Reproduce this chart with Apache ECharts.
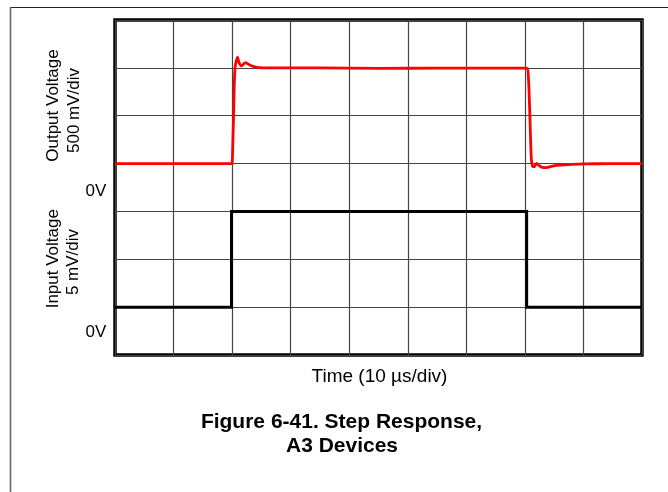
<!DOCTYPE html>
<html>
<head>
<meta charset="utf-8">
<script src="https://cdn.jsdelivr.net/npm/echarts@6/dist/echarts.min.js"></script>
<style>
  html, body { margin: 0; padding: 0; background: #fff; }
  #chart { width: 668px; height: 492px; }
</style>
</head>
<body>
<div id="chart"></div>
<script>
// Scope settings: 10 µs/div horizontally, 9 divisions; 7 vertical divisions.
const timeAxis = { min: 0, max: 90, step: 10 };            // µs
const outputAxis = { min: -2000, max: 1500, step: 500 };   // mV, 500 mV/div
const inputAxis = { min: -5, max: 30, step: 5 };           // mV, 5 mV/div

// Output voltage trace (red)
const outTime = [0, 10, 20.0, 20.05, 20.25, 20.5, 20.95, 21.15, 21.6, 22.3, 23.0, 24.2, 26, 35, 45, 55, 65, 70.3,
                 70.6, 70.9, 71.1, 71.3, 71.55, 72.0, 72.5, 73.3, 74.2, 75.4, 78, 80, 85, 90];
const outMv   = [0, 0, 0, 50, 500, 1000, 1108, 1060, 1022, 1055, 1030, 1005, 1000, 1000, 995, 997, 998, 998,
                 900, 400, 50, -30, -35, 3, -25, -43, -35, -18, -8, -3, -1, 0];

// Input voltage step (black)
const inTime = [0, 19.9, 19.9, 70.3, 70.3, 90];
const inMv   = [0, 0, 10, 10, 0, 0];

const outPairs = outTime.map((t, i) => [t, outMv[i]]);
const inPairs = inTime.map((t, i) => [t, inMv[i]]);

const FONT = '"Liberation Sans", Arial, Helvetica, sans-serif';
const txt = (x, y, text, size, opts = {}) => ({
  type: 'text', x, y, rotation: opts.rotation || 0,
  style: {
    text, fill: '#000', font: `${opts.bold ? 'bold ' : ''}${size}px ${FONT}`,
    textAlign: 'center', textVerticalAlign: 'middle'
  }
});

const chart = echarts.init(document.getElementById('chart'));
chart.setOption({
  animation: false,
  backgroundColor: '#fff',
  grid: { left: 115, top: 20, width: 527, height: 335, show: true, borderColor: '#000', borderWidth: 3.5, backgroundColor: 'transparent' },
  xAxis: {
    type: 'value', min: timeAxis.min, max: timeAxis.max, interval: timeAxis.step,
    axisLine: { show: false }, axisTick: { show: false }, axisLabel: { show: false },
    splitLine: { show: true, lineStyle: { color: '#444', width: 1.2 } }
  },
  yAxis: [
    {
      type: 'value', min: outputAxis.min, max: outputAxis.max, interval: outputAxis.step,
      axisLine: { show: false }, axisTick: { show: false }, axisLabel: { show: false },
      splitLine: { show: true, lineStyle: { color: '#444', width: 1.2 } }
    },
    {
      type: 'value', min: inputAxis.min, max: inputAxis.max, interval: inputAxis.step,
      axisLine: { show: false }, axisTick: { show: false }, axisLabel: { show: false },
      splitLine: { show: false }
    }
  ],
  series: [
    {
      name: 'Input Voltage', type: 'line', yAxisIndex: 1, data: inPairs,
      showSymbol: false, lineStyle: { color: '#000', width: 3, join: 'miter' }, z: 3
    },
    {
      name: 'Output Voltage', type: 'line', yAxisIndex: 0, data: outPairs,
      showSymbol: false, smooth: 0.3, lineStyle: { color: '#ff0000', width: 2.8 }, z: 4
    }
  ],
  graphic: [
    { type: 'line', shape: { x1: 10, y1: 7.5, x2: 668, y2: 7.5 }, style: { stroke: '#222', lineWidth: 1.2 } },
    { type: 'line', shape: { x1: 10.5, y1: 7, x2: 10.5, y2: 492 }, style: { stroke: '#666', lineWidth: 1.6 } },
    txt(53, 105.5, 'Output Voltage', 17, { rotation: Math.PI / 2 }),
    txt(74, 110.5, '500 mV/div', 17, { rotation: Math.PI / 2 }),
    txt(53, 258.7, 'Input Voltage', 17, { rotation: Math.PI / 2 }),
    txt(73, 262, '5 mV/div', 17, { rotation: Math.PI / 2 }),
    txt(96, 191.5, '0V', 17),
    txt(96, 332, '0V', 17),
    txt(379.5, 377, 'Time (10 \u00B5s/div)', 19),
    txt(341.5, 422, 'Figure 6-41. Step Response,', 21, { bold: true }),
    txt(342, 446, 'A3 Devices', 21, { bold: true })
  ]
});
</script>
</body>
</html>
